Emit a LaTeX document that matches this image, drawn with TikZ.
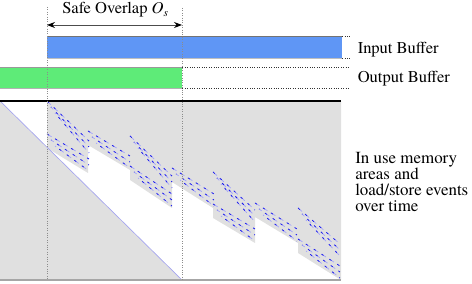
\documentclass[tikz,border=0pt]{standalone}
\usepackage{fontspec}
\setmainfont{texgyretermes}[Extension=.otf, UprightFont=*-regular, ItalicFont=*-italic, BoldFont=*-bold, BoldItalicFont=*-bolditalic]
\usetikzlibrary{arrows.meta}
\definecolor{inblue}{RGB}{95,150,245}
\definecolor{outgreen}{RGB}{94,235,120}
\definecolor{areagray}{RGB}{224,224,224}
\definecolor{evblue}{RGB}{25,25,235}
\definecolor{evlight}{RGB}{165,165,250}
\definecolor{diagblue}{RGB}{165,165,240}
\newcommand\evband[3]{%
  \foreach \k/\dx in {0/0,1/4,2/8}{%
    \draw[evlight, line width=0.55pt, dash pattern=on 4pt off 3pt, dash phase=\k*1.5pt]
      ({#1+\dx},{#2+6*\k}) -- ({#1+42},{#2+6*\k+#3});
    \draw[evblue, line width=0.55pt, dash pattern=on 1.8pt off 5.2pt, dash phase=\k*1.5pt]
      ({#1+\dx},{#2+6*\k}) -- ({#1+42},{#2+6*\k+#3});
  }%
}
\begin{document}
\begin{tikzpicture}[x=0.75pt,y=-0.75pt,
  font=\fontsize{12.4}{12.4}\selectfont,
  guide/.style={black!45, line width=0.6pt, dash pattern=on 0.6pt off 1.2pt},
  rowline/.style={black!80, line width=0.5pt, dash pattern=on 0.6pt off 1.2pt},
  lbl/.style={inner sep=0pt, anchor=base west, font=\fontsize{12.4}{12.4}\selectfont},
  arealbl/.style={lbl, font=\fontsize{12.7}{12.7}\selectfont}]
\useasboundingbox (0,0) rectangle (472,284);

% buffer rows
\draw[rowline] (47,36.5) -- (350,36.5);
\draw[rowline] (47,58) -- (350,58);
\draw[rowline] (0,67.5) -- (350,67.5);
\draw[rowline] (0,88.5) -- (350,88.5);
\fill[inblue] (47,36.5) rectangle (341.5,58);
\draw[black!55, line width=0.6pt] (47,36.5) -- (341.5,36.5);
\draw[black!25, line width=0.5pt] (47,58) -- (341.5,58);
\fill[outgreen] (0,67.5) rectangle (182,88.5);
\draw[black!40, line width=0.6pt] (0,67.5) -- (182,67.5);
\draw[black!30, line width=0.6pt] (0,88.5) -- (182,88.5);

% memory areas
\fill[areagray] (0,101) -- (182,280) -- (0,280) -- cycle;
\fill[areagray] (47,101) -- (341,101) -- (341,280) -- (298,253) -- (298,243)
  -- (255,217) -- (255,243) -- (213,218) -- (213,208) -- (172,182) -- (172,208)
  -- (130,180) -- (130,170) -- (88,145) -- (88,173) -- (47,148) -- cycle;
\draw[diagblue, line width=0.5pt] (0,101) -- (182,280);

% load/store events
\evband{47}{101}{40}
\evband{47}{134}{25}
\evband{88}{131}{25}
\evband{130}{136}{40}
\evband{130}{166}{28}
\evband{172}{168}{26}
\evband{213}{172}{38}
\evband{213}{204}{25}
\evband{255}{203}{26}
\evband{298}{208}{36}
\evband{298}{239}{27}

% frame lines
\draw[black, line width=0.9pt] (0,101) -- (341,101);
\draw[black!35, line width=0.8pt] (0,280) -- (341,280);

% guides
\draw[guide] (47,7) -- (47,280);
\draw[guide] (182,8) -- (182,280);

% overlap arrow
\coordinate (ovL) at (47,25);
\coordinate (ovR) at (182,25);
\draw[black!70, line width=0.6pt, {Stealth[length=6pt,width=4.5pt,black]}-{Stealth[length=6pt,width=4.5pt,black]}] (ovL) -- (ovR);
\node[lbl] (ovtext) at (62,14) {Safe Overlap \textit{O}\raisebox{-0.3ex}{\fontsize{8.5}{9}\selectfont\textit{s}}};

% legend
\node[lbl] (inlab) at (357.5,53.5) {Input Buffer};
\node[lbl] (outlab) at (357.5,83) {Output Buffer};
\node[arealbl] (area1) at (355,163.5) {In use memory};
\node[arealbl] (area2) at (355,179.5) {areas and};
\node[arealbl] (area3) at (355,195.5) {load/store events};
\node[arealbl] (area4) at (355,211.5) {over time};
\end{tikzpicture}
\end{document}
